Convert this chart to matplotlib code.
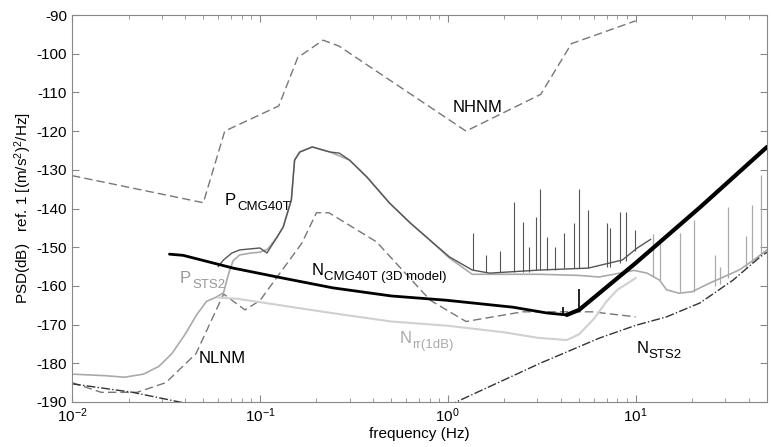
import numpy as np
import matplotlib
matplotlib.use("Agg")
import matplotlib.pyplot as plt
from matplotlib.transforms import offset_copy

plt.rcParams['font.family'] = ['Liberation Sans', 'DejaVu Sans']
plt.rcParams['mathtext.fontset'] = 'custom'
plt.rcParams['mathtext.rm'] = 'Liberation Sans'
plt.rcParams['mathtext.it'] = 'Liberation Sans:italic'
plt.rcParams['axes.unicode_minus'] = False

# New high / low noise models (Peterson)
nhnm_f = [0.01, 0.05, 0.065, 0.126, 0.159, 0.217, 0.263, 1.25, 3.125, 4.55, 10]
nhnm_db = [-131.5, -138.5, -120, -113.5, -101, -96.5, -98, -120, -110.5, -97.4, -91.5]

nlnm_f = [0.01, 0.0143, 0.0222, 0.0316, 0.0457, 0.0641, 0.0833, 0.1, 0.167,
          0.2, 0.233, 0.417, 0.806, 1.25, 2.5, 5.88, 10]
nlnm_db = [-185, -187.5, -187.5, -185, -177.5, -162.1, -166.2, -163.8, -149,
           -141.1, -141.1, -148.6, -163.7, -169.2, -166.7, -166.7, -168]

# STS2 self noise (dash-dot), two visible pieces
nsts2_lo_f = [0.01, 0.021, 0.04]
nsts2_lo_db = [-185.3, -187.5, -190.3]
nsts2_hi_f = [1.0, 3.1, 6.4, 10, 14.6, 22, 33, 46, 50]
nsts2_hi_db = [-191, -180, -173.5, -170.2, -168, -164.4, -158.5, -152.5, -151.3]

# CMG40T self noise, 3D model (black): thinner below the notch, thick above
ncmg_lo_f = [0.033, 0.039, 0.072, 0.133, 0.244, 0.5, 0.98, 2.22, 3.37, 4.3]
ncmg_lo_db = [-151.8, -152.1, -155.4, -158, -160.5, -162.6, -163.7, -165.5, -167, -167.5]
ncmg_hi_f = [4.3, 5.0, 10, 22, 50]
ncmg_hi_db = [-167.5, -166.2, -154.1, -139.7, -124.1]
ncmg_spk_f = [4.1, 4.97]
ncmg_spk_lo = [-167.6, -166.4]
ncmg_spk_hi = [-165.5, -160.8]

# N_rr(1dB) (very light gray)
nrr_f = [0.06, 0.075, 0.1, 0.15, 0.24, 0.5, 1.0, 2.0, 3.0, 4.3, 5.0, 6.0, 7.0, 8.0, 10]
nrr_db = [-163, -163.3, -164.2, -165.5, -167, -169.2, -170.3, -172, -173.4, -174,
          -172.5, -168.5, -164, -161, -158]

# measured PSD of CMG40T (dark gray)
pcmg_f = [0.06, 0.064, 0.071, 0.078, 0.1, 0.109, 0.123, 0.133, 0.147, 0.153, 0.163,
          0.19, 0.236, 0.265, 0.3, 0.37, 0.49, 0.63, 0.8, 1.02, 1.35, 1.67, 3.1,
          5.6, 8.5, 10.2, 12]
pcmg_db = [-155, -153.3, -151.5, -150.7, -150.2, -151.5, -147.5, -144.8, -137.8,
           -127.5, -125.4, -124.1, -125.4, -125.7, -127.5, -131.8, -138.6, -143.7,
           -148.1, -152.5, -155.9, -156.7, -155.9, -155.4, -153.3, -150.2, -148]
pcmg_spk_f = [1.37, 1.6, 1.9, 2.24, 2.5, 2.7, 2.94, 3.1, 3.36, 3.7, 4.14, 4.7, 4.97,
              5.6, 7.0, 7.3, 8.3, 8.9, 9.9]
pcmg_spk_lo = [-156, -156.5, -156.5, -156.5, -156.5, -156.3, -156, -156, -156, -155.8,
               -155.5, -155.5, -155.5, -155.5, -155, -155, -154, -153.5, -151]
pcmg_spk_hi = [-146.3, -152, -151, -138.3, -143.5, -150, -142.2, -135, -147.4, -150,
               -146.3, -143.7, -135, -140.4, -143.7, -145, -140.9, -141, -145.5]

# measured PSD of STS2 (light gray); hidden under P_CMG40T between 0.12 and 1 Hz
psts2_f = [0.01, 0.015, 0.019, 0.024, 0.029, 0.034, 0.04, 0.046, 0.052, 0.058,
           0.064, 0.068, 0.072, 0.078, 0.09, 0.1, 0.11, 0.123, 0.133, 0.147, 0.153,
           0.163, 0.19, 0.236, 0.3, 0.37, 0.49, 0.63, 0.8, 1.02, 1.35, 3.1, 5.0,
           6.4, 9.8, 11.5, 13.4, 14.6, 17, 20, 24.7, 30, 35.5, 42, 50]
psts2_db = [-182.8, -183.2, -183.6, -182.8, -180.8, -177.5, -172.5, -167.5, -164,
            -163, -161.8, -157, -153.5, -152, -151.5, -151.3, -150.5, -147.5, -144.8,
            -137.8, -127.5, -125.4, -124.1, -125.4, -127.5, -131.8, -138.6, -143.7,
            -148.1, -152.8, -157, -157, -157.3, -157.7, -156, -156.7, -158.5, -161,
            -161.9, -161.5, -159.3, -157.5, -155.9, -153.5, -150.7]
psts2_spk_f = [12.4, 13.4, 17.2, 20.4, 26.3, 28, 30.9, 38.7, 41.6, 46.6]
psts2_spk_lo = [-157.5, -158.5, -161.5, -161.5, -160, -159.5, -158, -155.5, -154, -152]
psts2_spk_hi = [-146.5, -148.5, -146.3, -143, -152, -155, -139.6, -147, -139.1, -131.3]

# curve labels: main letter, subscript, position (left, baseline), colour
lab_main = ['NHNM', 'P', 'P', 'N', 'NLNM', 'N', 'N']
lab_sub = ['', 'CMG40T', 'STS2', 'CMG40T (3D model)', '', 'rr(1dB)', 'STS2']
lab_f = [1.06, 0.0652, 0.0375, 0.189, 0.0474, 0.556, 10.1]
lab_db = [-115.1, -139.1, -159.3, -157.2, -179.9, -174.8, -177.3]
lab_col = ['black', 'black', '#999999', 'black', 'black', '#aaaaaa', 'black']

fig = plt.figure(figsize=(7.71, 4.47), dpi=100)
ax = fig.add_axes([0.0934, 0.1007, 0.9014, 0.8657])

dash = (0, (6, 3))
ax.semilogx(nhnm_f, nhnm_db, color='#777777', lw=1, ls=dash)
ax.semilogx(nlnm_f, nlnm_db, color='#777777', lw=1, ls=dash)
ax.semilogx(psts2_f, psts2_db, color='#aaaaaa', lw=1.2, zorder=2)
ax.vlines(psts2_spk_f, psts2_spk_lo, psts2_spk_hi, color='#aaaaaa', lw=0.9, zorder=2)
ax.semilogx(nrr_f, nrr_db, color='#d0d0d0', lw=1.5, zorder=2)
ax.semilogx(pcmg_f, pcmg_db, color='#555555', lw=1, zorder=3)
ax.vlines(pcmg_spk_f, pcmg_spk_lo, pcmg_spk_hi, color='#555555', lw=0.8, zorder=3)
ax.semilogx(nsts2_lo_f, nsts2_lo_db, color='#333333', lw=1, ls='-.')
ax.semilogx(nsts2_hi_f, nsts2_hi_db, color='#333333', lw=1, ls='-.')
ax.semilogx(ncmg_lo_f, ncmg_lo_db, color='black', lw=2, zorder=4, solid_capstyle='round')
ax.semilogx(ncmg_hi_f, ncmg_hi_db, color='black', lw=3, zorder=4, solid_capstyle='round')
ax.vlines(ncmg_spk_f, ncmg_spk_lo, ncmg_spk_hi, color='black', lw=1.2, zorder=4)

ax.set_xlim(0.01, 50)
ax.set_ylim(-190, -90)
ax.set_yticks(np.arange(-190, -89, 10))

ax.tick_params(which='both', direction='in', top=True, right=True, color='#888888',
               labelsize=11, labelcolor='black')
ax.tick_params(which='major', length=5)
ax.tick_params(which='minor', length=3)
for s in ax.spines.values():
    s.set_color('#888888')

ax.set_xlabel('frequency (Hz)', fontsize=11, labelpad=1)
ax.set_ylabel(r'PSD(dB)   ref. 1 [(m/s$^2$)$^2$/Hz]', fontsize=11, labelpad=2)

for m, sub, f, db, c in zip(lab_main, lab_sub, lab_f, lab_db, lab_col):
    t = ax.text(f, db, m, fontsize=12, color=c, zorder=6)
    if sub:
        tr = offset_copy(ax.transData, fig=fig, x=8.8, y=-3.6, units='points')
        ax.text(f, db, sub, fontsize=9.5, color=c, transform=tr, zorder=6)

fig.savefig('out.png', dpi=100)
